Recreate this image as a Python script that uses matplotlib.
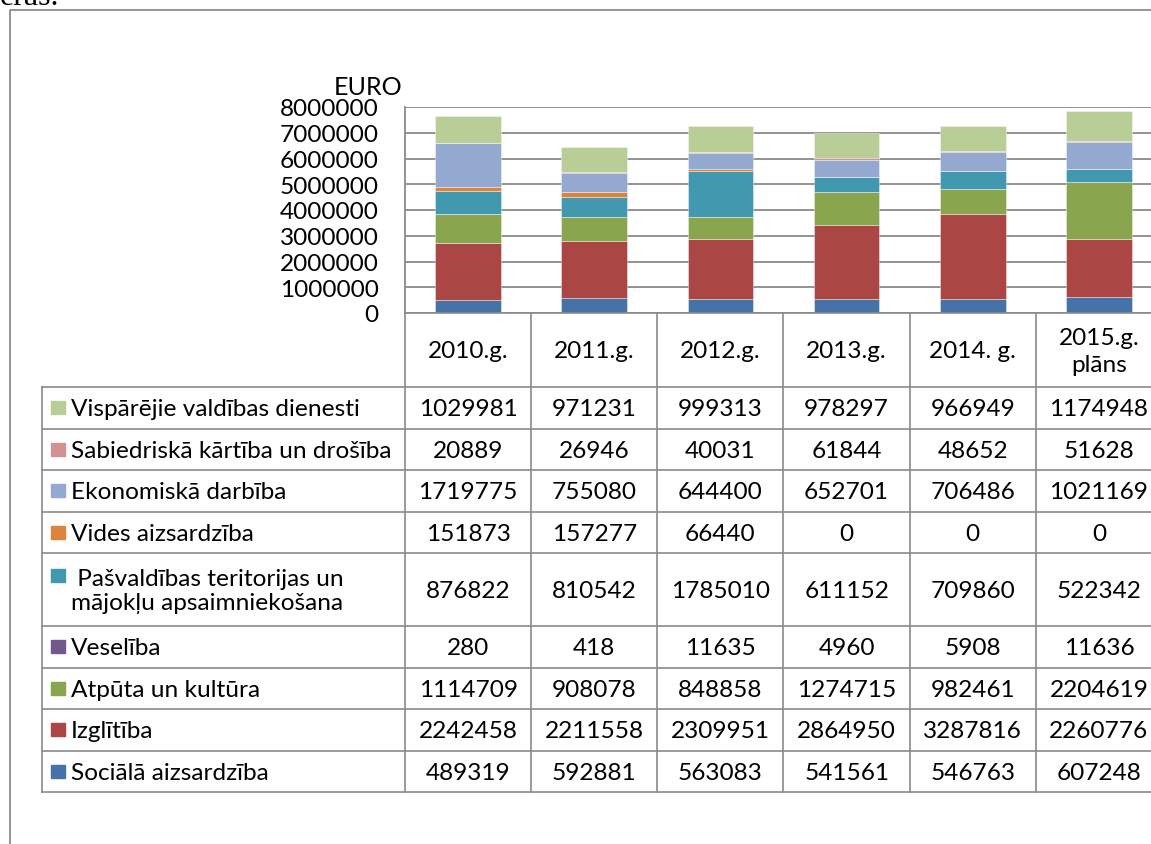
import matplotlib
matplotlib.use("Agg")
import matplotlib.pyplot as plt
from matplotlib.patches import Rectangle
import numpy as np

W, H = 1151, 845

years = ["2010.g.", "2011.g.", "2012.g.", "2013.g.", "2014. g.", "2015.g.\nplāns"]

# stacking order, bottom -> top
series = [
    "Sociālā aizsardzība",
    "Izglītība",
    "Atpūta un kultūra",
    "Veselība",
    " Pašvaldības teritorijas un\nmājokļu apsaimniekošana",
    "Vides aizsardzība",
    "Ekonomiskā darbība",
    "Sabiedriskā kārtība un drošība",
    "Vispārējie valdības dienesti",
]
socialais = [489319, 592881, 563083, 541561, 546763, 607248]
izglitiba = [2242458, 2211558, 2309951, 2864950, 3287816, 2260776]
atputa = [1114709, 908078, 848858, 1274715, 982461, 2204619]
veseliba = [280, 418, 11635, 4960, 5908, 11636]
pasvaldibas = [876822, 810542, 1785010, 611152, 709860, 522342]
vides = [151873, 157277, 66440, 0, 0, 0]
ekonomiska = [1719775, 755080, 644400, 652701, 706486, 1021169]
sabiedriska = [20889, 26946, 40031, 61844, 48652, 51628]
visparejie = [1029981, 971231, 999313, 978297, 966949, 1174948]
values = [socialais, izglitiba, atputa, veseliba, pasvaldibas, vides,
          ekonomiska, sabiedriska, visparejie]
colors = ["#4572A7", "#AA4643", "#89A54E", "#71588F", "#4198AF",
          "#DB843D", "#93A9CF", "#D19392", "#B9CD96"]

plt.rcParams['font.family'] = ['Lato', 'DejaVu Sans']
FS = 17.6
GRID = "#8a8a8a"

fig = plt.figure(figsize=(W / 100, H / 100), dpi=100)


def fx(px):
    return px / W


def fy(py):
    return 1 - py / H


# plot area in pixels
x0, x1 = 405, 1162
y_top, y_zero = 108, 314
ax = fig.add_axes([fx(x0), fy(y_zero), fx(x1 - x0), (y_zero - y_top) / H])
x = np.arange(len(years))
bottom = np.zeros(len(years))
for vals, c in zip(values, colors):
    ax.bar(x, vals, 0.52, bottom=bottom, color=c,
           edgecolor=(1, 1, 1, 0.45), linewidth=0.6, zorder=3)
    bottom += np.array(vals)
ax.set_xlim(-0.5, len(years) - 0.5)
ax.set_ylim(0, 8000000)
ax.set_yticks(np.arange(0, 8000001, 1000000))
ax.set_yticklabels([str(v) for v in range(0, 8000001, 1000000)], fontsize=FS)
ax.set_xticks([])
ax.yaxis.grid(True, color=GRID, linewidth=1.3)
ax.set_axisbelow(True)
ax.tick_params(axis='y', length=0, pad=19)
for s in ["top", "right", "bottom"]:
    ax.spines[s].set_visible(False)
ax.spines["left"].set_color(GRID)
ax.spines["left"].set_linewidth(1.3)
ax.patch.set_alpha(0)

fig.text(fx(402), fy(95), "EURO", fontsize=FS + 0.5, ha="right", va="baseline")

# data table under the chart
tx0 = 42
tax = fig.add_axes([0, 0, 1, 1])
tax.set_xlim(0, W)
tax.set_ylim(H, 0)
tax.axis("off")

col_w = (x1 - x0) / len(years)
col_edges = [x0 + i * col_w for i in range(len(years) + 1)]
head_h, row_h, row2_h = 74, 41.5, 73
lw = 1.2

# header
tax.plot([x0, x1], [y_zero, y_zero], color=GRID, lw=lw)
for i, yl in enumerate(years):
    tax.text((col_edges[i] + col_edges[i + 1]) / 2, y_zero + head_h / 2 + 1, yl,
             fontsize=FS, ha="center", va="center", multialignment="center",
             linespacing=1.4)

y = y_zero + head_h
tax.plot([tx0, x1], [y, y], color=GRID, lw=lw)
rows_top = y
for idx in range(len(series) - 1, -1, -1):
    label = series[idx]
    h = row2_h if "\n" in label else row_h
    yc = y + h / 2
    nlines = label.count("\n") + 1
    sq_c = yc - (nlines - 1) * 14
    tax.add_patch(Rectangle((51, sq_c - 6.5), 14, 13, color=colors[idx]))
    tax.text(71, yc + 1, label, fontsize=FS, ha="left", va="center",
             linespacing=1.2)
    for i, v in enumerate(values[idx]):
        tax.text((col_edges[i] + col_edges[i + 1]) / 2, yc + 1, str(v),
                 fontsize=FS, ha="center", va="center")
    y += h
    tax.plot([tx0, x1], [y, y], color=GRID, lw=lw)
tax.plot([tx0, tx0], [rows_top, y], color=GRID, lw=lw)
for e in col_edges:
    tax.plot([e, e], [y_zero, y], color=GRID, lw=lw)

# outer chart frame and cut-off text from the page
tax.plot([10, 10, W + 5], [H + 5, 11, 11], color="#8c8c8c", lw=1.3)
fig.text(0, fy(5), "eras.", fontsize=23, family="Liberation Serif",
         ha="left", va="baseline")

fig.savefig("out.png", dpi=100)
